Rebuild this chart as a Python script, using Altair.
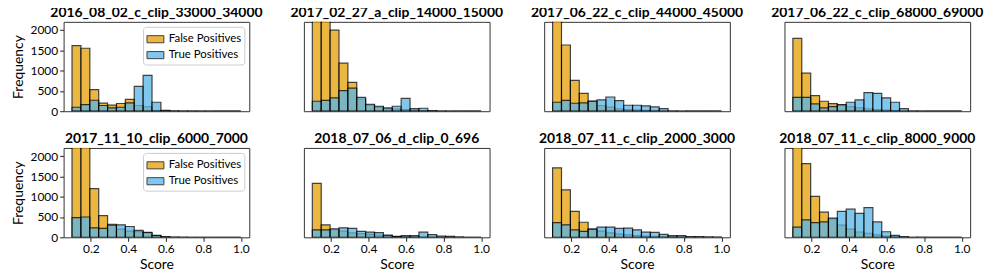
import altair as alt
import pandas as pd
import numpy as np

TITLES = [
    "2016_08_02_c_clip_33000_34000",
    "2017_02_27_a_clip_14000_15000",
    "2017_06_22_c_clip_44000_45000",
    "2017_06_22_c_clip_68000_69000",
    "2017_11_10_clip_6000_7000",
    "2018_07_06_d_clip_0_696",
    "2018_07_11_c_clip_2000_3000",
    "2018_07_11_c_clip_8000_9000",
]

SERIES = ["False Positives", "True Positives"]
COLORS = ["#E69F00", "#56B4E9"]

# 19 bins between 0.1 and 1.0
BIN_EDGES = np.linspace(0.1, 1.0, 20)

FP_1 = [1616, 1550, 530, 200, 150, 190, 290, 140, 110, 15, 10, 5, 3, 2, 1, 1, 0, 0, 0]
TP_1 = [98, 163, 270, 140, 82, 98, 204, 612, 881, 220, 20, 5, 2, 0, 0, 0, 0, 0, 0]
FP_2 = [3200, 2800, 1997, 1182, 709, 300, 150, 100, 60, 50, 40, 25, 15, 5, 2, 1, 0, 0, 0]
TP_2 = [245, 269, 326, 505, 570, 342, 171, 122, 81, 122, 318, 65, 73, 16, 3, 0, 0, 0, 0]
FP_3 = [2700, 1630, 758, 440, 250, 140, 100, 60, 40, 30, 20, 10, 5, 2, 1, 0, 0, 0, 0]
TP_3 = [220, 269, 196, 204, 245, 277, 350, 261, 147, 147, 130, 106, 65, 3, 1, 0, 0, 0, 0]
FP_4 = [1793, 937, 383, 245, 187, 150, 110, 80, 60, 40, 25, 15, 5, 2, 1, 0, 0, 0, 0]
TP_4 = [342, 342, 179, 81, 114, 163, 220, 277, 456, 440, 326, 220, 65, 3, 0, 0, 0, 0, 0]
FP_5 = [2900, 2500, 1200, 532, 322, 200, 150, 140, 110, 45, 15, 5, 2, 1, 0, 0, 0, 0, 0]
TP_5 = [484, 500, 234, 218, 298, 306, 266, 170, 121, 48, 5, 1, 0, 0, 0, 0, 0, 0, 0]
FP_6 = [1330, 306, 190, 150, 110, 90, 70, 50, 40, 20, 15, 10, 8, 6, 4, 2, 1, 0, 0]
TP_6 = [185, 185, 210, 234, 218, 145, 129, 113, 56, 24, 40, 40, 129, 65, 32, 24, 8, 0, 0]
FP_7 = [1709, 1169, 637, 371, 200, 150, 110, 80, 60, 40, 30, 20, 15, 10, 8, 5, 3, 2, 1]
TP_7 = [363, 306, 185, 145, 202, 250, 250, 218, 226, 185, 129, 121, 73, 40, 40, 16, 16, 8, 4]
FP_8 = [2600, 1813, 1008, 621, 460, 300, 200, 130, 100, 60, 30, 15, 5, 2, 1, 0, 0, 0, 0]
TP_8 = [250, 427, 363, 379, 476, 637, 693, 589, 733, 379, 137, 48, 16, 2, 0, 0, 0, 0, 0]

FP = [FP_1, FP_2, FP_3, FP_4, FP_5, FP_6, FP_7, FP_8]
TP = [TP_1, TP_2, TP_3, TP_4, TP_5, TP_6, TP_7, TP_8]

X_TICKS = [0.2, 0.4, 0.6, 0.8, 1.0]
Y_TICKS = [0, 500, 1000, 1500, 2000]

FONT = "Lato"


def panel(i):
    rows = []
    for s, vals in zip(SERIES, (FP[i], TP[i])):
        for j, v in enumerate(vals):
            rows.append({"series": s, "x0": float(BIN_EDGES[j]),
                         "x1": float(BIN_EDGES[j + 1]), "count": v})
    df = pd.DataFrame(rows)
    r, c = divmod(i, 4)
    if r == 1:
        xaxis = alt.Axis(values=X_TICKS, format=".1f", title="Score", grid=False,
                         domain=False, tickSize=4, labelPadding=2, titlePadding=3)
    else:
        xaxis = None
    if c == 0:
        yaxis = alt.Axis(values=Y_TICKS, format="d", title="Frequency", grid=False,
                         domain=False, tickSize=4, labelPadding=2, titlePadding=5)
        legend = alt.Legend(title=None, orient="top-right", offset=5)
    else:
        yaxis = None
        legend = None
    return (
        alt.Chart(df, title=alt.TitleParams(TITLES[i], font=FONT, fontSize=14,
                                            fontWeight="bold", offset=2, color="black"))
        .mark_bar(clip=True, opacity=0.75, stroke="black", strokeWidth=1.2)
        .encode(
            x=alt.X("x0:Q", scale=alt.Scale(domain=[0.055, 1.045], nice=False, zero=False),
                    axis=xaxis),
            x2="x1:Q",
            y=alt.Y("count:Q", scale=alt.Scale(domain=[0, 2200], nice=False), axis=yaxis),
            y2=alt.datum(0),
            color=alt.Color("series:N", scale=alt.Scale(domain=SERIES, range=COLORS),
                            legend=legend),
        )
        .properties(width=187, height=90)
    )


chart = (
    alt.concat(*[panel(i) for i in range(8)], columns=4,
               spacing={"row": 37, "column": 55}, bounds="flush")
    .resolve_scale(color="independent")
    .resolve_legend(color="independent")
    .properties(padding={"left": 2, "top": -4, "right": 5, "bottom": 0},
                background="white")
    .configure_view(stroke="#333", strokeWidth=1)
    .configure_axis(labelFont=FONT, titleFont=FONT, labelFontSize=12, titleFontSize=14,
                    titleFontWeight="normal", labelColor="black", titleColor="black",
                    tickColor="#222", tickWidth=1)
    .configure_legend(labelFont=FONT, labelFontSize=11.5, labelColor="black",
                      symbolType="M -1 -0.42 H 1 V 0.42 H -1 Z", symbolSize=290,
                      symbolStrokeColor="black", symbolStrokeWidth=1,
                      symbolOpacity=0.75, strokeColor="#ccc", fillColor="white",
                      padding=3, cornerRadius=3, rowPadding=0, labelOffset=4)
)

chart.save("out.html", embed_options={"renderer": "svg", "actions": False})
